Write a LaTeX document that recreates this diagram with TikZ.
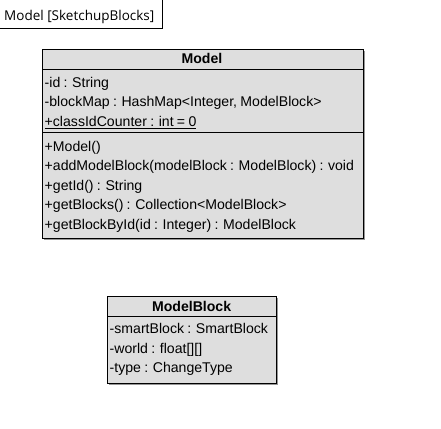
\documentclass[tikz,border=0pt]{standalone}
\usepackage{fontspec}
\setmainfont{Liberation Sans}
\newfontfamily\framefont{Open Sans}
\definecolor{boxfill}{RGB}{222,222,222}
\definecolor{shadowc}{RGB}{150,150,150}
\newcommand{\memberfont}{\fontsize{14.1}{16}\selectfont\spaceskip=3.3pt\relax}
\begin{document}
\begin{tikzpicture}[x=1pt,y=-1pt,
  classbox/.style={draw=black, line width=1pt},
  member/.style={anchor=base west, inner sep=0pt, font=\memberfont},
  titletext/.style={anchor=base, inner sep=0pt, font=\fontsize{14.1}{16}\selectfont\bfseries},
  sep/.style={draw=black, line width=1pt},
  shadowstrip/.style={fill=shadowc}]
\useasboundingbox (0,0) rectangle (441,428);
% frame label
\node[anchor=base west, inner sep=0pt, font=\framefont\fontsize{13.5}{15}\selectfont] (framelabel) at (4,20.7) {Model [SketchupBlocks]};
\coordinate (fa) at (162,0);
\coordinate (fb) at (162,29);
\coordinate (fc) at (0,29);
\draw[line width=1pt] (fa) -- (fb) -- (fc);
% Model class
\coordinate (mnw) at (42.3,49.3);
\coordinate (mse) at (363.3,238.3);
\fill[shadowstrip] (363.8,51.3) rectangle (365.3,240.3);
\fill[shadowstrip] (44.3,238.8) rectangle (365.3,240.3);
\fill[boxfill] (mnw) rectangle (mse);
\draw[classbox] (mnw) rectangle (mse);
\coordinate (ms1a) at (42.3,69.3);
\coordinate (ms1b) at (363.3,69.3);
\coordinate (ms2a) at (42.3,132.3);
\coordinate (ms2b) at (363.3,132.3);
\draw[sep] (ms1a) -- (ms1b);
\draw[sep] (ms2a) -- (ms2b);
\node[titletext] (modeltitle) at (202,63.5) {Model};
\node[member] (m1) at (44.5,87.3) {-id : String};
\node[member] (m2) at (44.5,106.8) {-blockMap : HashMap<Integer, ModelBlock>};
\node[member] (m3) at (44.5,126.3) {\underline{+classIdCounter : int = 0}};
\node[member] (o1) at (44.5,151.3) {+Model()};
\node[member] (o2) at (44.5,170.8) {+addModelBlock(modelBlock : ModelBlock) : void};
\node[member] (o3) at (44.5,190.3) {+getId() : String};
\node[member] (o4) at (44.5,209.8) {+getBlocks() : Collection<ModelBlock>};
\node[member] (o5) at (44.5,229.3) {+getBlockById(id : Integer) : ModelBlock};
% ModelBlock class
\coordinate (bnw) at (107.3,296.3);
\coordinate (bse) at (276,383.3);
\fill[shadowstrip] (276.5,298.3) rectangle (278,385.3);
\fill[shadowstrip] (109.3,383.8) rectangle (278,385.3);
\fill[boxfill] (bnw) rectangle (bse);
\draw[classbox] (bnw) rectangle (bse);
\coordinate (bs1a) at (107.3,316.5);
\coordinate (bs1b) at (276,316.5);
\draw[sep] (bs1a) -- (bs1b);
\node[titletext] (mbtitle) at (191.6,311) {ModelBlock};
\node[member] (b1) at (109.5,333.5) {-smartBlock : SmartBlock};
\node[member] (b2) at (109.5,353.2) {-world : float[][]};
\node[member] (b3) at (109.5,372.9) {-type : ChangeType};
\end{tikzpicture}
\end{document}
